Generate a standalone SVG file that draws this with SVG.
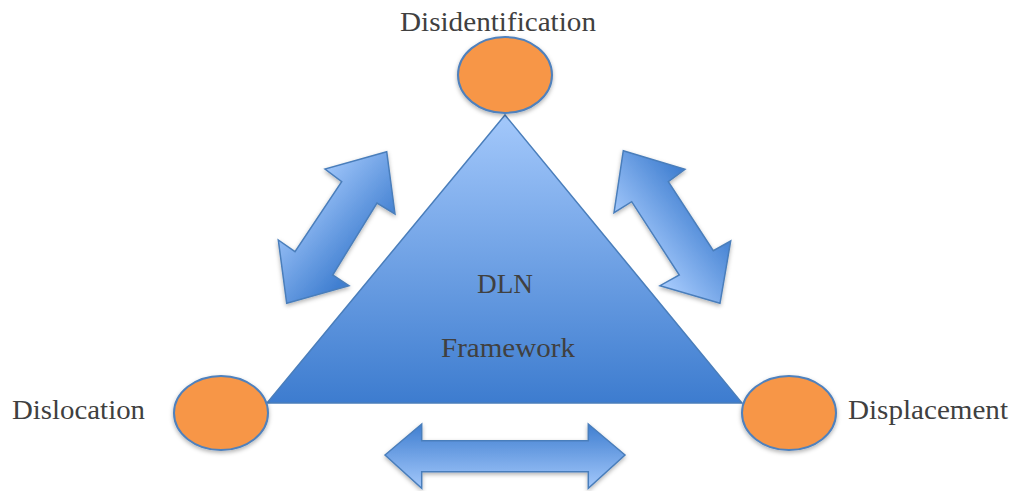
<svg xmlns="http://www.w3.org/2000/svg" width="1012" height="491" viewBox="0 0 1012 491">
  <defs>
    <linearGradient id="triFill" x1="0" y1="115" x2="0" y2="403" gradientUnits="userSpaceOnUse">
      <stop offset="0" stop-color="#a3c8fb"/>
      <stop offset="1" stop-color="#3d7ccf"/>
    </linearGradient>
    <linearGradient id="arrowLeftFill" x1="300" y1="190" x2="370" y2="250" gradientUnits="userSpaceOnUse">
      <stop offset="0" stop-color="#a3c8fb"/>
      <stop offset="1" stop-color="#3f7ed0"/>
    </linearGradient>
    <linearGradient id="arrowRightFill" x1="640" y1="250" x2="705" y2="200" gradientUnits="userSpaceOnUse">
      <stop offset="0" stop-color="#a3c8fb"/>
      <stop offset="1" stop-color="#3f7ed0"/>
    </linearGradient>
    <linearGradient id="arrowBottomFill" x1="0" y1="424" x2="0" y2="488" gradientUnits="userSpaceOnUse">
      <stop offset="0" stop-color="#3f7ed0"/>
      <stop offset="1" stop-color="#a3c8fb"/>
    </linearGradient>
    <filter id="shadow" x="-20%" y="-20%" width="140%" height="140%">
      <feDropShadow dx="0" dy="2" stdDeviation="2" flood-color="#000" flood-opacity="0.3"/>
    </filter>
  </defs>
  <style>
    .label { font-family: "Liberation Serif", "DejaVu Serif", serif; font-size: 27px; fill: #404040; }
    .node { fill: #f79646; stroke: #4f81bd; stroke-width: 2; filter: url(#shadow); }
    .arrow { stroke: #4a7ebb; stroke-width: 1.5; stroke-linejoin: miter; filter: url(#shadow); }
  </style>

  <rect width="1012" height="491" fill="#ffffff"/>

  <!-- central triangle -->
  <g id="framework">
    <polygon points="505,115 267,403 742,403" fill="url(#triFill)" stroke="#4a7ebb" stroke-width="1.5"/>
    <text class="label" x="477" y="293" textLength="56" lengthAdjust="spacingAndGlyphs">DLN</text>
    <text class="label" x="441" y="357" textLength="134" lengthAdjust="spacingAndGlyphs">Framework</text>
  </g>

  <!-- corner nodes -->
  <g id="disidentification">
    <ellipse class="node" cx="505" cy="75" rx="47" ry="38"/>
    <text class="label" x="400" y="31" textLength="196" lengthAdjust="spacingAndGlyphs">Disidentification</text>
  </g>
  <g id="dislocation">
    <ellipse class="node" cx="221" cy="413" rx="47" ry="37"/>
    <text class="label" x="12" y="419" textLength="133" lengthAdjust="spacingAndGlyphs">Dislocation</text>
  </g>
  <g id="displacement">
    <ellipse class="node" cx="789" cy="413" rx="47" ry="37"/>
    <text class="label" x="848" y="419" textLength="160" lengthAdjust="spacingAndGlyphs">Displacement</text>
  </g>

  <!-- double-headed connectors between the corners -->
  <g id="connectors">
    <polygon class="arrow" fill="url(#arrowLeftFill)" points="386.7,151.7 395,214 377,203 332.7,275 349,285.7 286.7,303.3 278.3,240 295,251.7 341.7,181.7 325,169"/>
    <polygon class="arrow" fill="url(#arrowRightFill)" points="623.3,150.7 685,169.3 668.3,181.7 713.3,250.7 730.7,241 720,303.3 660,285.7 679.3,275 631.7,201.7 614,212.7"/>
    <polygon class="arrow" fill="url(#arrowBottomFill)" points="385,455 421.7,424 421.7,440.7 588.3,440.7 588.3,424 625,455 588.3,488.3 588.3,471.7 421.7,471.7 421.7,488.3"/>
  </g>
</svg>
